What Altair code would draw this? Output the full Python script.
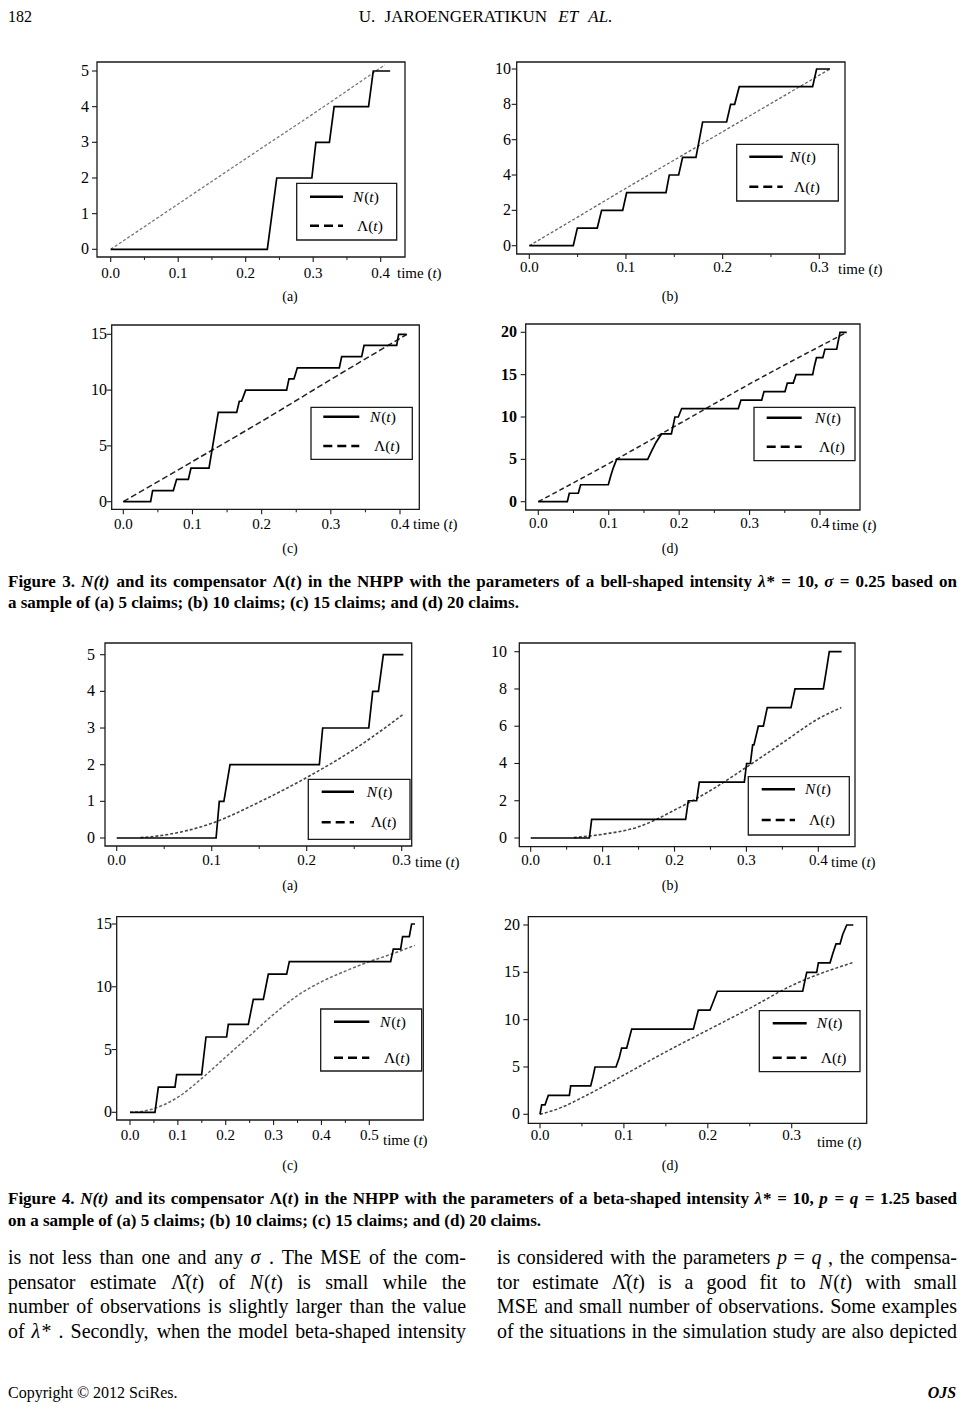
import altair as alt
import pandas as pd

# ================= data =================
# Figure 3 : bell-shaped intensity.  N(t) vertices (t, count) and compensator samples
f3a_nt = [0, 0.232, 0.246, 0.298, 0.304, 0.324, 0.331, 0.382, 0.389, 0.414]
f3a_nv = [0, 0, 2, 2, 3, 3, 4, 4, 5, 5]
f3a_lt = [0, 0.1, 0.2, 0.3, 0.406]
f3a_lv = [0, 1.27, 2.54, 3.8, 5.17]

f3b_nt = [0, 0.0455, 0.0497, 0.0703, 0.0748, 0.0966, 0.1007, 0.1414, 0.1448, 0.1545,
          0.1586, 0.1724, 0.1793, 0.2041, 0.2083, 0.2124, 0.2172, 0.2931, 0.2972, 0.311]
f3b_nv = [0, 0, 1, 1, 2, 2, 3, 3, 4, 4, 5, 5, 7, 7, 8, 8, 9, 9, 10, 10]
f3b_lt = [0, 0.05, 0.1, 0.15, 0.2, 0.25, 0.311]
f3b_lv = [0, 1.62, 3.25, 4.85, 6.45, 8.05, 10.0]

f3c_nt = [0, 0.0395, 0.0424, 0.0723, 0.0771, 0.094, 0.0978, 0.1239, 0.1373, 0.1639, 0.1677,
          0.171, 0.1769, 0.2361, 0.2395, 0.2467, 0.2516, 0.3123, 0.3157, 0.3446, 0.348,
          0.3952, 0.398, 0.4096]
f3c_nv = [0, 0, 1, 1, 2, 2, 3, 3, 8, 8, 9, 9, 10, 10, 11, 11, 12, 12, 13, 13, 14, 14, 15, 15]
f3c_lt = [0, 0.1, 0.2, 0.3, 0.41]
f3c_lv = [0, 3.6, 7.2, 10.95, 15.0]

f3d_nt = [0, 0.0412, 0.044, 0.0568, 0.0601, 0.0994, 0.1027, 0.1065, 0.1112, 0.1553, 0.161,
          0.1671, 0.175, 0.189, 0.194, 0.1988, 0.2036, 0.284, 0.2878, 0.3172, 0.3205, 0.3503,
          0.3536, 0.362, 0.366, 0.3896, 0.392, 0.395, 0.404, 0.407, 0.4237, 0.4284, 0.438]
f3d_nv = [0, 0, 1, 1, 2, 2, 3, 4, 5, 5, 6, 7, 8, 8, 10, 10, 11, 11, 12, 12, 13, 13, 14, 14,
          15, 15, 16, 17, 17, 18, 18, 20, 20]
f3d_lt = [0, 0.1, 0.2, 0.3, 0.438]
f3d_lv = [0, 4.5, 9.2, 13.9, 20.0]

# Figure 4 : beta-shaped intensity
f4a_nt = [0, 0.1046, 0.108, 0.1128, 0.1193, 0.2133, 0.2168, 0.2653, 0.2695, 0.2755, 0.2807, 0.3018]
f4a_nv = [0, 0, 1, 1, 2, 2, 3, 3, 4, 4, 5, 5]
f4a_lt = [0.025, 0.05, 0.1, 0.15, 0.2, 0.25, 0.302]
f4a_lv = [0.01, 0.08, 0.4, 0.98, 1.65, 2.42, 3.38]

f4b_nt = [0, 0.0816, 0.0848, 0.2155, 0.2192, 0.2308, 0.2345, 0.2971, 0.3003, 0.3055, 0.3087,
          0.3105, 0.3166, 0.3236, 0.329, 0.362, 0.3676, 0.407, 0.4112, 0.4153, 0.4324]
f4b_nv = [0, 0, 1, 1, 2, 2, 3, 3, 4, 4, 5, 5, 6, 6, 7, 7, 8, 8, 9, 10, 10]
f4b_lt = [0.06, 0.1, 0.15, 0.175, 0.2, 0.22, 0.25, 0.3, 0.35, 0.4, 0.432]
f4b_lv = [0.02, 0.2, 0.6, 1.0, 1.5, 1.9, 2.55, 3.8, 5.1, 6.4, 7.0]

f4c_nt = [0, 0.0522, 0.0592, 0.094, 0.0975, 0.1497, 0.1588, 0.2019, 0.2054, 0.2472, 0.2577,
          0.2786, 0.289, 0.3273, 0.3329, 0.5446, 0.5501, 0.5655, 0.5696, 0.5836, 0.5884, 0.5954]
f4c_nv = [0, 0, 2, 2, 3, 3, 6, 6, 7, 7, 9, 9, 11, 11, 12, 12, 13, 13, 14, 14, 15, 15]
f4c_lt = [0, 0.02, 0.05, 0.1, 0.15, 0.2, 0.25, 0.3, 0.35, 0.4, 0.45, 0.5, 0.55, 0.595]
f4c_lv = [0, 0.05, 0.3, 1.2, 2.7, 4.4, 6.1, 7.8, 9.3, 10.4, 11.25, 12.0, 12.65, 13.3]

f4d_nt = [0, 0.002, 0.006, 0.0099, 0.035, 0.0366, 0.0604, 0.0632, 0.0656, 0.0906, 0.0945,
          0.0973, 0.1033, 0.1093, 0.1828, 0.1887, 0.2026, 0.207, 0.2114, 0.3131, 0.3179,
          0.3298, 0.3318, 0.3457, 0.349, 0.3528, 0.3576, 0.3608, 0.3656, 0.3735]
f4d_nv = [0, 1, 1, 2, 2, 3, 3, 4, 5, 5, 6, 7, 7, 9, 9, 11, 11, 12, 13, 13, 15, 15, 16, 16,
          17, 18, 18, 19, 20, 20]
f4d_lt = [0, 0.025, 0.05, 0.1, 0.15, 0.2, 0.25, 0.3, 0.3735]
f4d_lv = [0, 0.7, 1.76, 4.15, 6.6, 8.9, 11.2, 13.6, 16.05]

# tick values
xt_03 = [0.0, 0.1, 0.2, 0.3]
xt_04 = [0.0, 0.1, 0.2, 0.3, 0.4]
xt_05 = [0.0, 0.1, 0.2, 0.3, 0.4, 0.5]
yt_5 = [0, 1, 2, 3, 4, 5]
yt_10 = [0, 2, 4, 6, 8, 10]
yt_15 = [0, 5, 10, 15]
yt_20 = [0, 5, 10, 15, 20]

DATA = {
    '3a': (f3a_nt, f3a_nv, f3a_lt, f3a_lv, xt_04, yt_5),
    '3b': (f3b_nt, f3b_nv, f3b_lt, f3b_lv, xt_03, yt_10),
    '3c': (f3c_nt, f3c_nv, f3c_lt, f3c_lv, xt_04, yt_15),
    '3d': (f3d_nt, f3d_nv, f3d_lt, f3d_lv, xt_04, yt_20),
    '4a': (f4a_nt, f4a_nv, f4a_lt, f4a_lv, xt_03, yt_5),
    '4b': (f4b_nt, f4b_nv, f4b_lt, f4b_lv, xt_04, yt_10),
    '4c': (f4c_nt, f4c_nv, f4c_lt, f4c_lv, xt_05, yt_15),
    '4d': (f4d_nt, f4d_nv, f4d_lt, f4d_lv, xt_03, yt_20),
}

# ================= layout (page pixels) =================
OFF = 8
W, H = 949, 1398
LAY = {
    '3a': dict(frame=(97, 405, 62, 257), xcal=(110.7, 380.7, 0.4), ycal=(249.3, 71, 5),
               xlab_y=273, ylab_r=89, time=(397, 273), box=(296.7, 396.7, 183.3, 240),
               lx=(310, 343), lyn=196.7, lyl=225.7, ltx=353, dash=[3, 2], dcol='#777', dw=1.3, sub=(290, 297, '(a)')),
    '3b': dict(frame=(516.7, 845, 62, 254), xcal=(529.3, 819.3, 0.3), ycal=(245.7, 69, 10),
               xlab_y=267, ylab_r=511, time=(838, 269), box=(736.7, 838.3, 144.3, 201),
               lx=(749.3, 782.7), lyn=156.7, lyl=186.7, ltx=790, dash=[3, 2], dcol='#666', dw=1.3, sub=(670, 297, '(b)')),
    '3c': dict(frame=(111.7, 419.3, 325, 509.3), xcal=(123.3, 400, 0.4), ycal=(501.7, 334.3, 15),
               xlab_y=524, ylab_r=107, time=(413, 524), box=(311, 412.3, 407.3, 459.3),
               lx=(323.3, 359.3), lyn=416.7, lyl=446, ltx=370, dash=[6, 3], dcol='#222', dw=1.5, sub=(290, 549, '(c)')),
    '3d': dict(frame=(525.7, 860, 324, 510), xcal=(538.3, 820, 0.4), ycal=(501.7, 332.3, 20),
               xlab_y=523, ylab_r=517, time=(832, 525), box=(754, 855, 407.3, 460.7),
               lx=(766.7, 801.7), lyn=417.7, lyl=446.7, ltx=815, dash=[5, 3], dcol='#222', dw=1.5, sub=(670, 549, '(d)')),
    '4a': dict(frame=(105, 411.7, 643, 846), xcal=(116.7, 401.7, 0.3), ycal=(838, 654.7, 5),
               xlab_y=860, ylab_r=95, time=(415, 862), box=(308.3, 410, 779.3, 839.3),
               lx=(321.7, 354), lyn=791.7, lyl=822.3, ltx=366.7, dash=[3, 2], dcol='#444', dw=1.6, sub=(290, 886, '(a)')),
    '4b': dict(frame=(519.3, 855, 643, 846.7), xcal=(530.7, 818.3, 0.4), ycal=(838, 651.7, 10),
               xlab_y=860, ylab_r=507, time=(831, 862), box=(748.3, 849.3, 776.7, 835),
               lx=(761.7, 795), lyn=789.3, lyl=820, ltx=805, dash=[3, 2], dcol='#444', dw=1.6, sub=(670, 886, '(b)')),
    '4c': dict(frame=(116.7, 423.3, 916.7, 1120), xcal=(130, 369.3, 0.5), ycal=(1112.3, 924, 15),
               xlab_y=1135, ylab_r=112, time=(383, 1140), box=(320.7, 421.7, 1009, 1071),
               lx=(334, 369.3), lyn=1021.7, lyl=1057.7, ltx=380, dash=[3, 2], dcol='#666', dw=1.5, sub=(290, 1166, '(c)')),
    '4d': dict(frame=(528.3, 866.7, 916.7, 1123.3), xcal=(540, 791.7, 0.3), ycal=(1114.3, 925, 20),
               xlab_y=1135, ylab_r=520, time=(817, 1142), box=(759.3, 860, 1010.7, 1071.7),
               lx=(772.7, 806.7), lyn=1023.3, lyl=1057.7, ltx=816.7, dash=[3, 2], dcol='#444', dw=1.5, sub=(670, 1166, '(d)')),
}

SERIF = 'Liberation Serif'
TICK_FS = 15


# ================= text metrics (Liberation Serif = Times metrics) =================
def _tab(groups):
    d = {}
    for w, chars in groups:
        for c in chars:
            d[c] = w
    return d


TR = _tab([(250, " ,."), (278, ":;ijlt"), (333, "()-frI"), (389, "sJ"), (444, "acez"),
           (500, "0123456789bdghknopquvxy*λ"), (550, "σ"), (556, "FPS"), (564, "="),
           (611, "ELTZ"), (667, "BCR"), (722, "ADGHKNOQUVXYwΛ"), (760, "©"), (778, "m"),
           (889, "M"), (944, "W"), (0, "\u0302")])
TB = _tab([(250, " ,."), (278, "il"), (333, "()-ftj:;"), (389, "sI"), (444, "cerz"),
           (500, "0123456789agovxy*Jλ"), (550, "σ"), (556, "bdhknpquS"), (570, "="),
           (611, "FP"), (667, "BELTZ"), (722, "ACDNRUVXYwΛ"), (747, "©"), (778, "GHKOQ"),
           (833, "m"), (944, "M"), (1000, "W"), (0, "\u0302")])


def width(s, bold, size):
    tab = TB if bold else TR
    return sum(tab.get(c, 500) for c in s) * size / 1000.0


def parse_line(s):
    words = []
    for w in s.split(' '):
        if not w:
            continue
        segs = []
        for seg in w.split('|'):
            if seg.startswith('~'):
                segs.append((seg[1:], True))
            else:
                segs.append((seg, False))
        words.append(segs)
    return words


def em_width(s, bold, space=0.25):
    ws = parse_line(s)
    return sum(width(t, bold, 1) for w in ws for t, _ in w) + space * (len(ws) - 1)


text_rows = []


def put_line(s, x0, x1, y, size, bold=False, justify=False, anchor='left', space=0.25):
    words = parse_line(s)
    ws = [sum(width(t, bold, size) for t, _ in w) for w in words]
    if justify and len(words) > 1:
        gap = (x1 - x0 - sum(ws)) / (len(words) - 1)
    else:
        gap = space * size
    total = sum(ws) + gap * (len(words) - 1)
    if anchor == 'center':
        x = x0 - total / 2
    elif anchor == 'right':
        x = x1 - total
    else:
        x = x0
    for w, wd in zip(words, ws):
        xx = x
        for t, it in w:
            text_rows.append(dict(x=xx - OFF, y=y - OFF, text=t, size=size, bold=bold, italic=it))
            xx += width(t, bold, size)
        x += wd + gap


# ---------------- page texts ----------------
put_line("182", 8, 8, 17, 16)
put_line("U. JAROENGERATIKUN ~ET ~AL.", 487, 487, 17, 17, anchor='center', space=0.55)

cap3 = ["Figure 3. ~N(t) and its compensator Λ(|~t|) in the NHPP with the parameters of a "
        "bell-shaped intensity ~λ|* = 10, ~σ = 0.25 based on",
        "a sample of (a) 5 claims; (b) 10 claims; (c) 15 claims; and (d) 20 claims."]
cap4 = ["Figure 4. ~N(t) and its compensator Λ(|~t|) in the NHPP with the parameters of a "
        "beta-shaped intensity ~λ|* = 10, ~p = ~q = 1.25 based",
        "on a sample of (a) 5 claims; (b) 10 claims; (c) 15 claims; and (d) 20 claims."]
cap_size = min(17.0, min(0.99 * (957 - 8) / em_width(s, True) for s in (cap3[0], cap4[0])))
put_line(cap3[0], 8, 957, 582, cap_size, bold=True, justify=True)
put_line(cap3[1], 8, 957, 603, cap_size, bold=True)
put_line(cap4[0], 8, 957, 1199, cap_size, bold=True, justify=True)
put_line(cap4[1], 8, 957, 1221, cap_size, bold=True)

left_col = ["is not less than one and any ~σ . The MSE of the com-",
            "pensator estimate Λ\u0302(|~t|) of ~N|(|~t|) is small while the",
            "number of observations is slightly larger than the value",
            "of ~λ|* . Secondly, when the model beta-shaped intensity"]
right_col = ["is considered with the parameters ~p = ~q , the compensa-",
             "tor estimate Λ\u0302(|~t|) is a good fit to ~N|(|~t|) with small",
             "MSE and small number of observations. Some examples",
             "of the situations in the simulation study are also depicted"]
body_y = [1258, 1283, 1307, 1332]
body_size = min(20.5, min(0.99 * 458 / em_width(s, False) for s in left_col + right_col))
for s, y in zip(left_col, body_y):
    put_line(s, 8, 466, y, body_size, justify=True)
for s, y in zip(right_col, body_y):
    put_line(s, 497, 957, y, body_size, justify=True)

put_line("Copyright © 2012 SciRes.", 8, 8, 1393, 16)
put_line("~OJS", 957, 957, 1393, 16, bold=True, anchor='right')

# panel texts (legend entries, axis titles, sub-labels)
for key, L in LAY.items():
    put_line("~N|(|~t|)", L['ltx'], L['ltx'], L['lyn'], 15.5)
    put_line("Λ(|~t|)", L['ltx'] + 4, L['ltx'] + 4, L['lyl'], 15.5)
    put_line("time (|~t|)", L['time'][0], L['time'][0], L['time'][1], 15)
    sx, sy, st = L['sub']
    put_line(st, sx, sx, sy, 14, anchor='center')


# ================= panels =================
def panel_chart(key):
    nt, nv, lt, lv, xt, yt = DATA[key]
    L = LAY[key]
    l, r, t, b = L['frame']
    x0, x1, xv = L['xcal']
    y0, y1, yv = L['ycal']
    sxp = (x1 - x0) / xv
    syp = (y0 - y1) / yv
    xdom = [(l - x0) / sxp, (r - x0) / sxp]
    ydom = [(y0 - b) / syp, (y0 - t) / syp]
    xs = alt.Scale(domain=xdom, range=[l - OFF, r - OFF], nice=False, zero=False)
    ys = alt.Scale(domain=ydom, range=[b - OFF, t - OFF], nice=False, zero=False)

    def X(f):
        return alt.X(f, type='quantitative', scale=xs, axis=None)

    def Y(f):
        return alt.Y(f, type='quantitative', scale=ys, axis=None)

    one = pd.DataFrame({'a': [0]})
    layers = []
    frame_df = pd.DataFrame({'x0': [xdom[0]], 'x1': [xdom[1]], 'y0': [ydom[0]], 'y1': [ydom[1]]})
    layers.append(alt.Chart(frame_df).mark_rect(fill='white', fillOpacity=0, stroke='#1a1a1a',
                                                strokeWidth=1.3).encode(
        x=X('x0'), x2='x1', y=Y('y0'), y2='y1'))
    # x ticks (major + minor)
    minor = [(xt[i] + xt[i + 1]) / 2 for i in range(len(xt) - 1)]
    layers.append(alt.Chart(pd.DataFrame({'t': xt})).mark_rule(color='#1a1a1a', strokeWidth=1.1).encode(
        x=X('t'), y=alt.value(b - OFF), y2=alt.value(b - OFF + 5)))
    layers.append(alt.Chart(pd.DataFrame({'t': minor})).mark_rule(color='#1a1a1a', strokeWidth=1.0).encode(
        x=X('t'), y=alt.value(b - OFF), y2=alt.value(b - OFF + 3)))
    layers.append(alt.Chart(pd.DataFrame({'t': xt, 'lab': [f"{v:.1f}" for v in xt]})).mark_text(
        font=SERIF, fontSize=TICK_FS, baseline='middle', align='center', color='black').encode(
        x=X('t'), y=alt.value(L['xlab_y'] - OFF), text='lab:N'))
    # y ticks
    layers.append(alt.Chart(pd.DataFrame({'v': yt})).mark_rule(color='#1a1a1a', strokeWidth=1.1).encode(
        y=Y('v'), x=alt.value(l - OFF), x2=alt.value(l - OFF - 5)))
    ykw = dict(font=SERIF, fontSize=TICK_FS + 1, baseline='middle', align='right', color='black')
    if key == '3d':
        ykw['fontWeight'] = 'bold'
    layers.append(alt.Chart(pd.DataFrame({'v': yt, 'lab': [str(v) for v in yt]})).mark_text(**ykw).encode(
        y=Y('v'), x=alt.value(L['ylab_r'] - OFF), text='lab:N'))
    # compensator (dashed) and N(t) (solid)
    layers.append(alt.Chart(pd.DataFrame({'t': lt, 'v': lv})).mark_line(
        color=L['dcol'], strokeWidth=L['dw'], strokeDash=L['dash'], interpolate='monotone').encode(
        x=X('t'), y=Y('v')))
    nd = pd.DataFrame({'t': nt, 'n': nv, 'i': list(range(len(nt)))})
    layers.append(alt.Chart(nd).mark_line(color='black', strokeWidth=1.7).encode(
        x=X('t'), y=Y('n'), order='i:Q'))
    # legend box
    bl, br, bt, bb = L['box']
    layers.append(alt.Chart(one).mark_rect(fill='white', stroke='#1a1a1a', strokeWidth=1.3).encode(
        x=alt.value(bl - OFF), x2=alt.value(br - OFF), y=alt.value(bt - OFF), y2=alt.value(bb - OFF)))
    layers.append(alt.Chart(one).mark_rule(color='black', strokeWidth=2.4).encode(
        x=alt.value(L['lx'][0] - OFF), x2=alt.value(L['lx'][1] - OFF), y=alt.value(L['lyn'] - OFF)))
    layers.append(alt.Chart(one).mark_rule(color='black', strokeWidth=2.4, strokeDash=[9, 5]).encode(
        x=alt.value(L['lx'][0] - OFF), x2=alt.value(L['lx'][1] - OFF), y=alt.value(L['lyl'] - OFF)))
    return alt.layer(*layers)


panels = [panel_chart(k) for k in ['3a', '3b', '3c', '3d', '4a', '4b', '4c', '4d']]

# ================= text layers =================
tdf = pd.DataFrame(text_rows)


def tlayer(bold, italic):
    sub = tdf[(tdf['bold'] == bold) & (tdf['italic'] == italic)][['x', 'y', 'text', 'size']]
    kw = dict(align='left', baseline='middle', font=SERIF, color='black')
    if bold:
        kw['fontWeight'] = 'bold'
    if italic:
        kw['fontStyle'] = 'italic'
    return alt.Chart(sub).mark_text(**kw).encode(
        x=alt.X('x:Q', scale=None, axis=None),
        y=alt.Y('y:Q', scale=None, axis=None),
        text='text:N',
        size=alt.Size('size:Q', scale=None, legend=None))


texts = [tlayer(b, i) for b in (False, True) for i in (False, True)
         if len(tdf[(tdf['bold'] == b) & (tdf['italic'] == i)]) > 0]

chart = alt.layer(*panels, *texts).resolve_scale(
    x='independent', y='independent'
).properties(
    width=W, height=H, padding=0,
    autosize=alt.AutoSizeParams(type='none'),
    background='white'
).configure_view(strokeWidth=0)

chart.save("out.html", embed_options={"renderer": "svg", "actions": False})
